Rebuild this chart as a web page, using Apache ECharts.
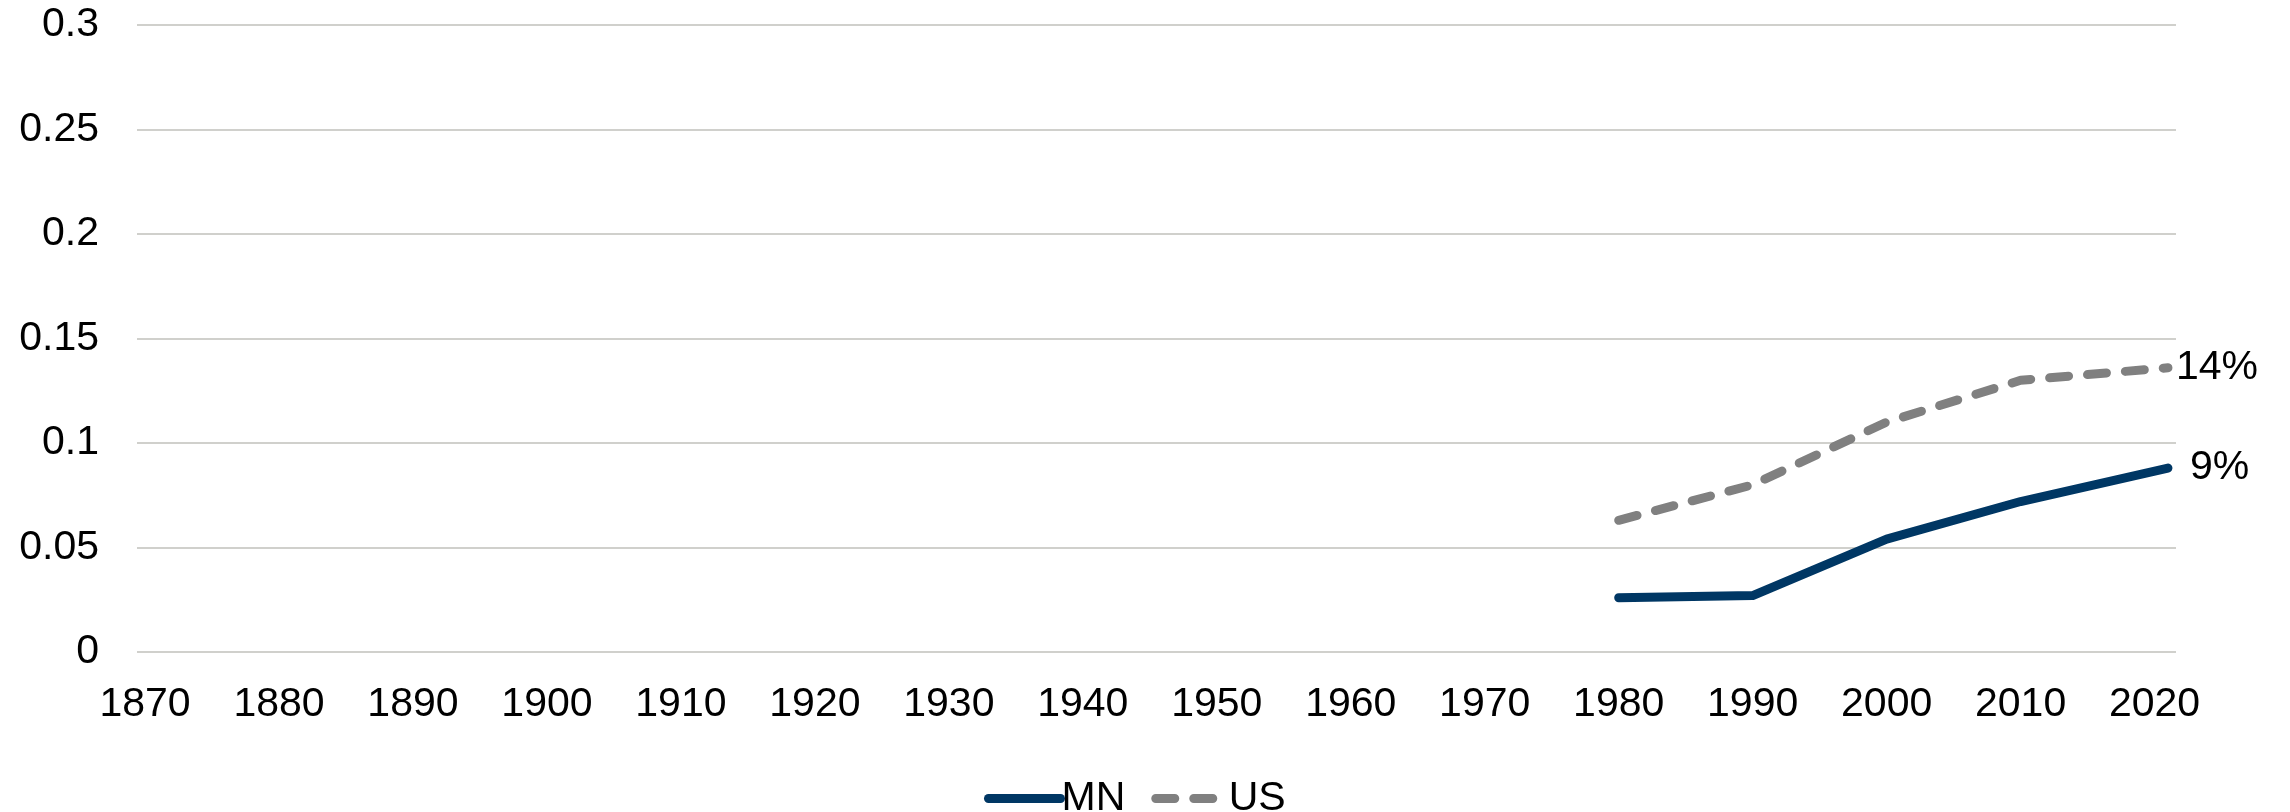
<!DOCTYPE html>
<html>
<head>
<meta charset="utf-8">
<title>MN vs US</title>
<script src="https://cdn.jsdelivr.net/npm/echarts@6/dist/echarts.min.js"></script>
<style>
  html, body { margin: 0; padding: 0; background: #fff; }
  #main { width: 2290px; height: 812px; }
</style>
</head>
<body>
<div id="main"></div>
<script>
// census years that have data (last one is the 2021 estimate)
const years = [1980, 1990, 2000, 2010, 2021]
const mnShare = [0.026, 0.027, 0.054, 0.072, 0.088]
const usShare = [0.063, 0.080, 0.110, 0.130, 0.136]
// x axis labels, one every decade
const xTickLabels = [1870, 1880, 1890, 1900, 1910, 1920, 1930, 1940, 1950,
  1960, 1970, 1980, 1990, 2000, 2010, 2020]

const font = "'Liberation Sans', Arial, sans-serif"
const fs = 41
const pair = (arr) => years.map((y, i) => [y, arr[i]])
const pct = (p) => Math.round(p.value[1] * 100) + '%'

const chart = echarts.init(document.getElementById('main'))

const option = {
  animation: false,
  textStyle: { fontFamily: font },
  grid: { left: 137, right: 114, top: 25, bottom: 160 },
  legend: {
    data: ['MN', 'US'],
    left: 979,
    top: 773,
    itemWidth: 72,
    itemHeight: 14,
    itemGap: 26,
    // hide the dot, keep the thick line
    itemStyle: { color: 'rgba(0,0,0,0)', borderWidth: 0 },
    lineStyle: { width: 9, cap: 'round' },
    textStyle: { fontSize: fs, color: '#000', fontFamily: font, padding: [0, 0, 0, -4] }
  },
  xAxis: {
    type: 'value',
    min: 1869.4,
    max: 2021.6,
    axisLine: { show: false },
    axisTick: { show: false },
    splitLine: { show: false },
    axisLabel: {
      customValues: xTickLabels,
      fontSize: fs,
      color: '#000',
      margin: 32,
      formatter: (v) => String(v)
    }
  },
  yAxis: {
    type: 'value',
    min: 0,
    max: 0.3,
    interval: 0.05,
    axisLine: { show: false },
    axisTick: { show: false },
    axisLabel: { fontSize: fs, color: '#000', margin: 38 },
    splitLine: { lineStyle: { color: '#d0d0cc', width: 2 } }
  },
  series: [
    {
      name: 'MN',
      type: 'line',
      symbol: 'none',
      data: pair(mnShare),
      lineStyle: { color: '#003764', width: 9, cap: 'round', join: 'round' },
      itemStyle: { color: '#003764' },
      endLabel: { show: true, formatter: pct, fontSize: fs, color: '#000', distance: 22 }
    },
    {
      name: 'US',
      type: 'line',
      symbol: 'none',
      data: pair(usShare),
      lineStyle: { color: '#808080', width: 9, type: [19, 19], cap: 'round', join: 'round' },
      itemStyle: { color: '#808080' },
      endLabel: { show: true, formatter: pct, fontSize: fs, color: '#000', distance: 8 }
    }
  ]
}

chart.setOption(option)
</script>
</body>
</html>
